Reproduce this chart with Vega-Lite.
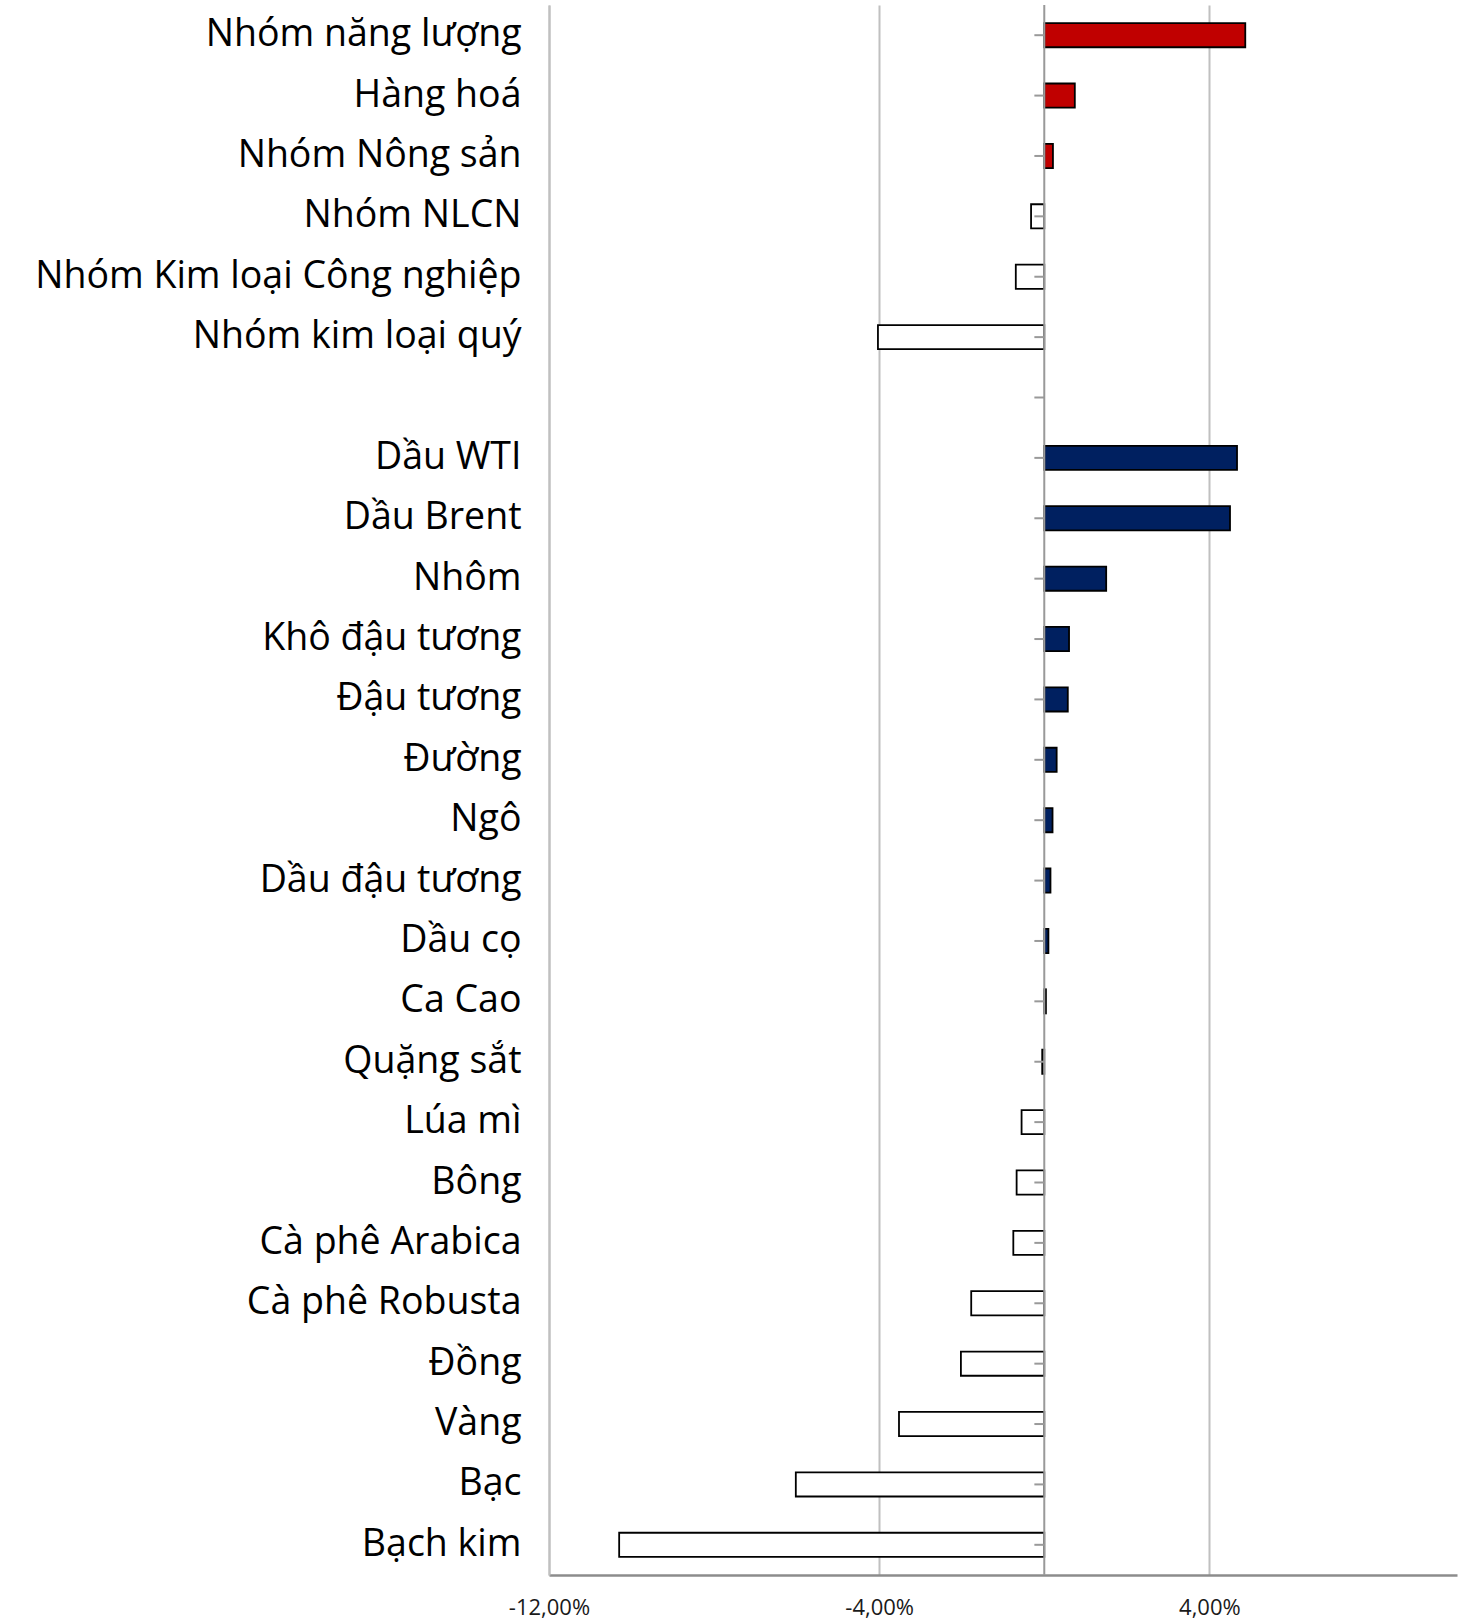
{
  "$schema": "https://vega.github.io/schema/vega-lite/v6.json",
  "autosize": "none",
  "width": 908,
  "height": 1570,
  "padding": {"left": 549, "top": 5, "right": 20, "bottom": 48},
  "background": "white",
  "config": {"view": {"stroke": null}, "font": "Open Sans"},
  "data": {
    "values": [
      {"name": "Nhóm năng lượng", "order": 1, "value": 4.87, "kind": "group"},
      {"name": "Hàng hoá", "order": 2, "value": 0.74, "kind": "group"},
      {"name": "Nhóm Nông sản", "order": 3, "value": 0.21, "kind": "group"},
      {"name": "Nhóm NLCN", "order": 4, "value": -0.32, "kind": "neg"},
      {"name": "Nhóm Kim loại Công nghiệp", "order": 5, "value": -0.69, "kind": "neg"},
      {"name": "Nhóm kim loại quý", "order": 6, "value": -4.03, "kind": "neg"},
      {"name": " ", "order": 7, "value": null, "kind": "neg"},
      {"name": "Dầu WTI", "order": 8, "value": 4.67, "kind": "item"},
      {"name": "Dầu Brent", "order": 9, "value": 4.5, "kind": "item"},
      {"name": "Nhôm", "order": 10, "value": 1.5, "kind": "item"},
      {"name": "Khô đậu tương", "order": 11, "value": 0.6, "kind": "item"},
      {"name": "Đậu tương", "order": 12, "value": 0.57, "kind": "item"},
      {"name": "Đường", "order": 13, "value": 0.3, "kind": "item"},
      {"name": "Ngô", "order": 14, "value": 0.2, "kind": "item"},
      {"name": "Dầu đậu tương", "order": 15, "value": 0.15, "kind": "item"},
      {"name": "Dầu cọ", "order": 16, "value": 0.1, "kind": "item"},
      {"name": "Ca Cao", "order": 17, "value": 0.04, "kind": "item"},
      {"name": "Quặng sắt", "order": 18, "value": -0.05, "kind": "neg"},
      {"name": "Lúa mì", "order": 19, "value": -0.55, "kind": "neg"},
      {"name": "Bông", "order": 20, "value": -0.67, "kind": "neg"},
      {"name": "Cà phê Arabica", "order": 21, "value": -0.75, "kind": "neg"},
      {"name": "Cà phê Robusta", "order": 22, "value": -1.77, "kind": "neg"},
      {"name": "Đồng", "order": 23, "value": -2.02, "kind": "neg"},
      {"name": "Vàng", "order": 24, "value": -3.52, "kind": "neg"},
      {"name": "Bạc", "order": 25, "value": -6.02, "kind": "neg"},
      {"name": "Bạch kim", "order": 26, "value": -10.3, "kind": "neg"}
    ]
  },
  "encoding": {
    "y": {
      "field": "name",
      "type": "nominal",
      "sort": {"field": "order", "op": "min", "order": "ascending"},
      "scale": {"paddingInner": 0.6, "paddingOuter": 0.3},
      "axis": {
        "title": null,
        "ticks": false,
        "domain": true,
        "domainColor": "#c0c0c0",
        "domainWidth": 2,
        "labelFontSize": 37.5,
        "labelColor": "#000000",
        "labelPadding": 28,
        "labelFont": "Open Sans",
        "labelLimit": 0
      }
    }
  },
  "layer": [
    {
      "mark": {"type": "bar", "stroke": "#000000", "strokeWidth": 1.8},
      "encoding": {
        "x": {
          "field": "value",
          "type": "quantitative",
          "scale": {"domain": [-12, 10], "nice": false, "zero": false},
          "axis": {
            "title": null,
            "values": [-12, -4, 4],
            "labelExpr": "replace(replace(format(datum.value, '.2f'), '.', ','), '\u2212', '-') + '%'",
            "labelFlush": false,
            "grid": true,
            "gridColor": "#c0c0c0",
            "gridWidth": 2,
            "ticks": false,
            "domainColor": "#8c8c8c",
            "domainWidth": 2.5,
            "labelFontSize": 22,
            "labelColor": "#1a1a1a",
            "labelPadding": 22,
            "labelFont": "Open Sans"
          }
        },
        "x2": {"datum": 0},
        "fill": {
          "field": "kind",
          "type": "nominal",
          "scale": {"domain": ["group", "item", "neg"], "range": ["#c00000", "#002060", "#ffffff"]},
          "legend": null
        }
      }
    },
    {
      "mark": {"type": "rule", "color": "#999999", "strokeWidth": 2},
      "encoding": {
        "x": {"datum": -0.24},
        "x2": {"datum": 0}
      }
    },
    {
      "mark": {"type": "rule", "color": "#999999", "strokeWidth": 2},
      "encoding": {
        "x": {"datum": 0},
        "y": null
      },
      "data": {"values": [{}]}
    }
  ]
}
